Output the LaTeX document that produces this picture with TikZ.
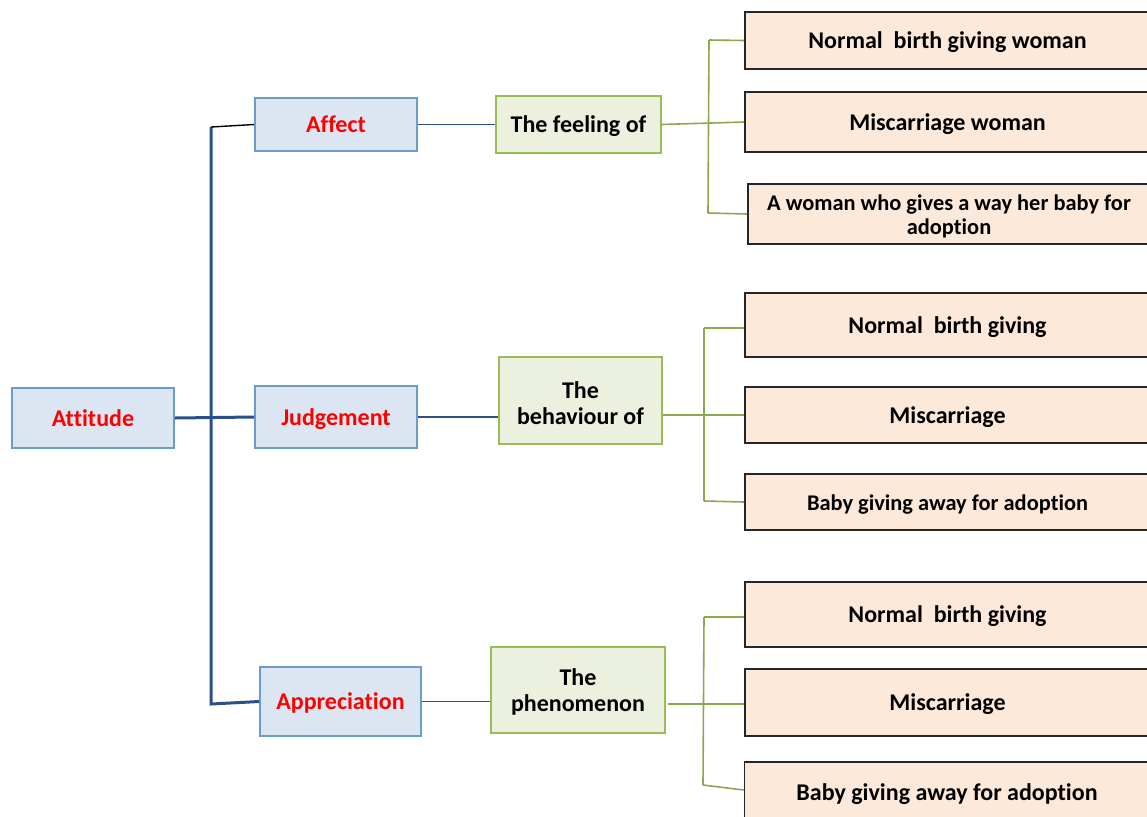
\documentclass[tikz,border=0pt]{standalone}
\usepackage{fontspec}
\setmainfont[RawFeature=-liga]{Carlito}
\definecolor{bluefill}{HTML}{DCE6F2}
\definecolor{blueline}{HTML}{6C9BD0}
\definecolor{greenfill}{HTML}{EBF1DE}
\definecolor{greenline}{HTML}{9BBB59}
\definecolor{peach}{HTML}{FDE9D9}
\definecolor{trunkblue}{HTML}{2B5089}
\definecolor{labelred}{HTML}{FF0000}
\begin{document}
\begin{tikzpicture}[x=0.5pt,y=-0.5pt,
  every node/.style={font=\fontsize{12}{13}\selectfont\bfseries, align=center, inner sep=2pt},
  oneline/.style={text height=10.8pt, text depth=2.4pt},
  smalltext/.style={font=\fontsize{11.2}{12}\selectfont\bfseries},
  bluebox/.style={draw=blueline, line width=0.8pt, fill=bluefill, text=labelred, oneline},
  greenbox/.style={draw=greenline, line width=0.8pt, fill=greenfill, text=black},
  peachbox/.style={draw=black!85, line width=0.8pt, fill=peach, text=black, minimum width=202.5pt},
  trunk/.style={draw=trunkblue, line width=1.5pt},
  thinblue/.style={draw=trunkblue, line width=0.7pt},
  bracket/.style={draw=greenline!90!black, line width=0.8pt}
]
\useasboundingbox (0,0) rectangle (1147,816);
\clip (0,0) rectangle (1147,816);

% first level
\node[bluebox, minimum width=81pt, minimum height=30pt] (att) at (93,418) {Attitude};
\node[bluebox, minimum width=81pt, minimum height=26.5pt] (aff) at (336,124.5) {Affect};
\node[bluebox, minimum width=81pt, minimum height=31pt] (jud) at (336,417) {Judgement};
\node[bluebox, minimum width=80.5pt, minimum height=34.5pt] (app) at (340.5,701.5) {Appreciation};

% second level
\node[greenbox, oneline, minimum width=82.5pt, minimum height=28.5pt] (feel) at (578.5,124.5) {The feeling of};
\node[greenbox, text height=23.8pt, text depth=0pt, minimum width=81.5pt, minimum height=43.5pt] (beh) at (580.5,400.5) {The\\behaviour of};
\node[greenbox, text height=24.3pt, text depth=2.4pt, minimum width=87pt, minimum height=43pt] (phe) at (578,690) {The\\phenomenon};

% third level
\node[peachbox, oneline, minimum height=28.5pt] (r1) at (947.5,40.5) {Normal\ \ birth giving woman};
\node[peachbox, oneline, minimum height=30pt] (r2) at (947.5,122) {Miscarriage woman};
\node[peachbox, smalltext, text height=22.7pt, text depth=2.3pt, minimum width=201pt, minimum height=30pt] (r3) at (949,214) {A woman who gives a way her baby for\\adoption};
\node[peachbox, oneline, minimum height=32pt] (r4) at (947.5,325) {Normal\ \ birth giving};
\node[peachbox, oneline, minimum height=28pt] (r5) at (947.5,415) {Miscarriage};
\node[peachbox, smalltext, oneline, minimum height=28pt] (r6) at (947.5,502) {Baby giving away for adoption};
\node[peachbox, oneline, minimum height=32.5pt] (r7) at (947.5,614.5) {Normal\ \ birth giving};
\node[peachbox, oneline, minimum height=33.5pt] (r8) at (947.5,702.5) {Miscarriage};
\node[peachbox, oneline, minimum height=30pt] (r9) at (947,792) {Baby giving away for adoption};

% trunk from Attitude
\coordinate (tTop) at (211,127);
\coordinate (tBot) at (211,704);
\draw[trunk] (tTop) -- (tBot) -- (app.west);
\draw[trunk] (att.east) -- (jud.west);
\draw[black, line width=0.7pt] (tTop) -- (aff.west);

% first to second level
\draw[thinblue] (aff.east) -- (feel.west);
\draw[thinblue] (jud.east) -- (beh.west |- jud.east);
\draw[thinblue] (app.east) -- (phe.west |- app.east);

% brackets to the third level
\coordinate (g1t) at (709,40);
\coordinate (g1b) at (708,213);
\draw[bracket] (g1t) -- (g1b);
\draw[bracket] (g1t) -- (r1.west);
\draw[bracket] (g1b) -- (r3.west);
\draw[bracket] (feel.east) -- (r2.west);

\coordinate (g2t) at (704,328);
\coordinate (g2b) at (704,501);
\draw[bracket] (g2t) -- (g2b);
\draw[bracket] (g2t) -- (r4.west |- g2t);
\draw[bracket] (g2b) -- (r6.west);
\draw[bracket] (beh.east |- r5.west) -- (r5.west);

\coordinate (g3t) at (704,617);
\coordinate (g3b) at (703,785);
\draw[bracket] (g3t) -- (g3b);
\draw[bracket] (g3t) -- (r7.west |- g3t);
\draw[bracket] (g3b) -- (r9.west |- 0,790);
\coordinate (p3) at (668,704);
\draw[bracket] (p3) -- (r8.west |- p3);
\end{tikzpicture}
\end{document}
